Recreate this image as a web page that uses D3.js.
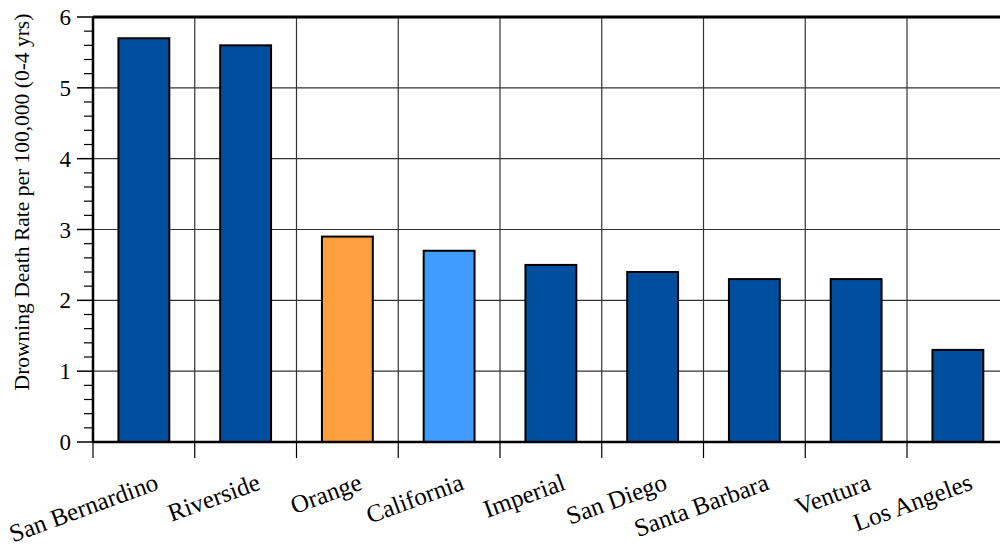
<!DOCTYPE html>
<html>
<head>
<meta charset="utf-8">
<script src="https://cdn.jsdelivr.net/npm/d3@7"></script>
<style>
  body { margin: 0; background: #fff; }
  text { font-family: "Liberation Serif", "Times New Roman", serif; fill: #000; }
</style>
</head>
<body>
<svg id="chart" width="1000" height="548"></svg>
<script>
// Data
const counties = ["San Bernardino", "Riverside", "Orange", "California", "Imperial",
                  "San Diego", "Santa Barbara", "Ventura", "Los Angeles"];
const rates = [5.7, 5.6, 2.9, 2.7, 2.5, 2.4, 2.3, 2.3, 1.3];
const barColors = ["#004f9e", "#004f9e", "#ffa040", "#409cff", "#004f9e",
                   "#004f9e", "#004f9e", "#004f9e", "#004f9e"];
const yTicks = [0, 1, 2, 3, 4, 5, 6];

const margin = { top: 17, left: 93, bottom: 106 };
const plotWidth = 9 * 101.75;
const plotHeight = 548 - margin.top - margin.bottom;

const svg = d3.select("#chart");
const g = svg.append("g").attr("transform", `translate(${margin.left},${margin.top})`);

const x = d3.scaleBand().domain(counties).range([0, plotWidth]).paddingInner(0.5).paddingOuter(0.25);
const xEdge = d3.scaleLinear().domain([0, counties.length]).range([0, plotWidth]);
const y = d3.scaleLinear().domain([0, 6]).range([plotHeight, 0]);

// horizontal grid
g.selectAll(".hgrid")
    .data(yTicks.slice(1))
    .enter().append("line")
    .attr("x1", 0).attr("x2", plotWidth)
    .attr("y1", d => y(d)).attr("y2", d => y(d))
    .attr("stroke", "#333").attr("stroke-width", 1.2);

// vertical grid at category boundaries
g.selectAll(".vgrid")
    .data(d3.range(1, counties.length))
    .enter().append("line")
    .attr("x1", d => xEdge(d)).attr("x2", d => xEdge(d))
    .attr("y1", 0).attr("y2", plotHeight)
    .attr("stroke", "#333").attr("stroke-width", 1.2);

// top border
g.append("line")
    .attr("x1", 0).attr("x2", plotWidth)
    .attr("y1", 0).attr("y2", 0)
    .attr("stroke", "#000").attr("stroke-width", 3);

// bars
g.selectAll(".bar")
    .data(counties)
    .enter().append("rect")
    .attr("x", d => x(d))
    .attr("width", x.bandwidth())
    .attr("y", (d, i) => y(rates[i]))
    .attr("height", (d, i) => y(0) - y(rates[i]))
    .attr("fill", (d, i) => barColors[i])
    .attr("stroke", "#000")
    .attr("stroke-width", 2);

// y axis: minor ticks
g.selectAll(".minor")
    .data(d3.range(0, 30).map(i => i / 5).filter(v => Math.round(v * 5) % 5 !== 0))
    .enter().append("line")
    .attr("x1", -9).attr("x2", 0)
    .attr("y1", d => y(d)).attr("y2", d => y(d))
    .attr("stroke", "#000").attr("stroke-width", 1.2);

// y axis: major ticks
g.selectAll(".major")
    .data(yTicks)
    .enter().append("line")
    .attr("x1", -16).attr("x2", 0)
    .attr("y1", d => y(d)).attr("y2", d => y(d))
    .attr("stroke", "#000").attr("stroke-width", 1.5);

g.selectAll(".ylabel")
    .data(yTicks)
    .enter().append("text")
    .attr("x", -22)
    .attr("y", d => y(d))
    .attr("dy", "0.35em")
    .attr("text-anchor", "end")
    .attr("font-size", 23)
    .text(d => d);

g.append("line")
    .attr("x1", 0).attr("x2", 0)
    .attr("y1", 0).attr("y2", plotHeight)
    .attr("stroke", "#000").attr("stroke-width", 2.5);

// x axis
g.append("line")
    .attr("x1", 0).attr("x2", plotWidth)
    .attr("y1", plotHeight).attr("y2", plotHeight)
    .attr("stroke", "#000").attr("stroke-width", 2.5);

g.selectAll(".xtick")
    .data(d3.range(0, counties.length + 1))
    .enter().append("line")
    .attr("x1", d => xEdge(d)).attr("x2", d => xEdge(d))
    .attr("y1", plotHeight).attr("y2", plotHeight + 16)
    .attr("stroke", "#000").attr("stroke-width", 1.2);

g.selectAll(".xlabel")
    .data(counties)
    .enter().append("text")
    .attr("transform", d => `translate(${x(d) + x.bandwidth() / 2 + 16},${plotHeight + 47}) rotate(-20)`)
    .attr("text-anchor", "end")
    .attr("font-size", 25)
    .text(d => d);

// y axis title
svg.append("text")
    .attr("transform", `translate(29,202) rotate(-90)`)
    .attr("text-anchor", "middle")
    .attr("font-size", 21.5)
    .text("Drowning Death Rate per 100,000 (0-4 yrs)");
</script>
</body>
</html>
